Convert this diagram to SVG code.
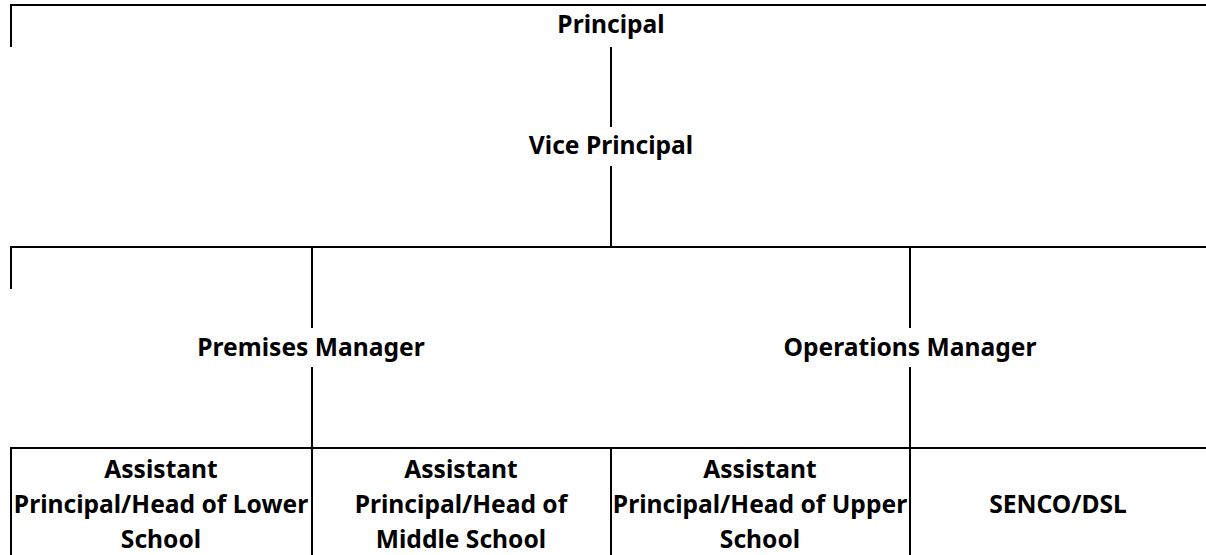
<svg xmlns="http://www.w3.org/2000/svg" width="1206" height="555" viewBox="0 0 1206 555">
<style>
  .t { font-family: "Noto Sans", "Open Sans", sans-serif; font-weight: bold; font-size: 24.6px; fill: #000; text-anchor: middle; }
  .ln { stroke: #000; stroke-width: 2; fill: none; }
  .bx { stroke: #000; stroke-width: 2; fill: none; }
</style>
<rect width="1206" height="555" fill="#fff"/>
<g id="connectors">
  <path class="ln" d="M11,47 V5 H1206"/>
  <path class="ln" d="M611,47 V127"/>
  <path class="ln" d="M611,166 V247"/>
  <path class="ln" d="M11,289 V247 H1206"/>
  <path class="ln" d="M312,247 V328"/>
  <path class="ln" d="M910,247 V328"/>
  <path class="ln" d="M312,367 V448"/>
  <path class="ln" d="M910,367 V448"/>
</g>
<g id="principal">
  <text class="t" x="611" y="33">Principal</text>
</g>
<g id="vice-principal">
  <text class="t" x="611" y="154">Vice Principal</text>
</g>
<g id="premises-manager">
  <text class="t" x="311" y="356">Premises Manager</text>
</g>
<g id="operations-manager">
  <text class="t" x="910" y="356">Operations Manager</text>
</g>
<g id="boxes-frame">
  <path class="bx" d="M11,555 V448 H1206"/>
  <path class="bx" d="M312,448 V555 M611,448 V555 M910,448 V555"/>
</g>
<g id="ap-lower">
  <text class="t" x="161" y="478">Assistant</text>
  <text class="t" x="161" y="513">Principal/Head of Lower</text>
  <text class="t" x="161" y="548">School</text>
</g>
<g id="ap-middle">
  <text class="t" x="461" y="478">Assistant</text>
  <text class="t" x="461" y="513">Principal/Head of</text>
  <text class="t" x="461" y="548">Middle School</text>
</g>
<g id="ap-upper">
  <text class="t" x="760" y="478">Assistant</text>
  <text class="t" x="760" y="513">Principal/Head of Upper</text>
  <text class="t" x="760" y="548">School</text>
</g>
<g id="senco-dsl">
  <text class="t" x="1058" y="513">SENCO/DSL</text>
</g>
</svg>
